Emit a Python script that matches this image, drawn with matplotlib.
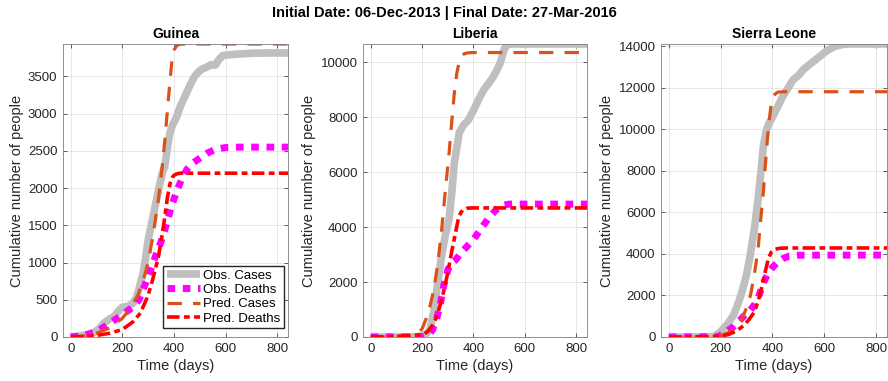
import matplotlib
matplotlib.use("Agg")
import matplotlib.pyplot as plt

plt.rcParams["font.family"] = ["Liberation Sans", "DejaVu Sans"]

SUPTITLE = "Initial Date: 06-Dec-2013 | Final Date: 27-Mar-2016"
COUNTRIES = ["Guinea", "Liberia", "Sierra Leone"]
SERIES_LABELS = ["Obs. Cases", "Obs. Deaths", "Pred. Cases", "Pred. Deaths"]

# --- Guinea ---
gn_obs_cases_days = [0, 30, 60, 90, 110, 130, 150, 170, 185, 200, 220, 240, 255, 265, 280, 290, 300,
                     315, 330, 345, 355, 365, 375, 385, 395, 410, 425, 445, 465, 480, 495, 510, 525,
                     545, 560, 575, 590, 610, 650, 700, 760, 842]
gn_obs_cases = [0, 10, 30, 60, 110, 190, 240, 280, 350, 400, 410, 450, 530, 650, 850, 1050, 1300,
                1550, 1800, 2050, 2200, 2300, 2550, 2750, 2850, 2950, 3100, 3250, 3400, 3500, 3560,
                3600, 3620, 3660, 3650, 3730, 3780, 3790, 3800, 3810, 3815, 3815]
gn_obs_deaths_days = [0, 50, 100, 150, 200, 240, 265, 290, 310, 330, 350, 370, 390, 410, 430, 450,
                      470, 500, 530, 560, 600, 650, 842]
gn_obs_deaths = [0, 20, 70, 180, 300, 400, 500, 720, 900, 1100, 1280, 1500, 1750, 1950, 2120, 2250,
                 2330, 2400, 2470, 2520, 2545, 2550, 2550]
gn_pred_cases_days = [0, 50, 100, 150, 200, 230, 260, 280, 300, 320, 340, 355, 365, 375, 385, 392,
                      400, 410, 420, 440, 842]
gn_pred_cases = [0, 15, 50, 120, 250, 380, 560, 750, 1000, 1380, 1850, 2300, 2650, 3050, 3450, 3700,
                 3850, 3910, 3930, 3935, 3935]
gn_pred_deaths_days = [0, 50, 100, 150, 200, 240, 270, 300, 320, 340, 355, 365, 375, 385, 393, 400,
                       410, 425, 445, 842]
gn_pred_deaths = [0, 5, 20, 50, 100, 200, 320, 560, 800, 1080, 1380, 1620, 1880, 2060, 2140, 2170,
                  2190, 2200, 2200, 2200]

# --- Liberia ---
lr_obs_cases_days = [0, 100, 180, 210, 230, 245, 260, 275, 290, 305, 315, 325, 335, 345, 360, 380,
                     400, 420, 440, 460, 475, 490, 505, 520, 535, 842]
lr_obs_cases = [0, 0, 10, 60, 250, 900, 1900, 2900, 3700, 4300, 5200, 6300, 6900, 7450, 7700, 7900,
                8250, 8650, 9000, 9250, 9450, 9700, 10000, 10500, 10670, 10670]
lr_obs_deaths_days = [0, 100, 200, 225, 240, 255, 270, 285, 300, 315, 330, 350, 375, 400, 430, 460,
                      490, 515, 540, 842]
lr_obs_deaths = [0, 0, 10, 80, 250, 600, 1150, 1900, 2450, 2700, 2800, 3050, 3300, 3550, 3950, 4350,
                 4650, 4800, 4840, 4840]
lr_pred_cases_days = [0, 100, 150, 180, 200, 215, 230, 245, 260, 275, 290, 305, 315, 325, 335, 345,
                      355, 365, 380, 400, 842]
lr_pred_cases = [0, 15, 40, 100, 300, 650, 1100, 1700, 2600, 3800, 5300, 6700, 7800, 8850, 9600,
                 10050, 10250, 10320, 10350, 10360, 10360]
lr_pred_deaths_days = [0, 100, 200, 220, 240, 255, 270, 285, 300, 315, 330, 340, 350, 360, 375, 395,
                       842]
lr_pred_deaths = [0, 20, 80, 180, 420, 700, 1150, 1700, 2350, 3100, 3800, 4250, 4520, 4640, 4690,
                  4700, 4700]

# --- Sierra Leone ---
sl_obs_cases_days = [0, 100, 175, 200, 225, 250, 270, 285, 300, 315, 330, 345, 355, 365, 375, 385,
                     400, 420, 440, 460, 480, 500, 520, 550, 580, 610, 640, 670, 700, 842]
sl_obs_cases = [0, 0, 20, 250, 600, 1050, 1700, 2300, 3000, 4000, 5200, 6700, 7900, 9200, 9900,
                10250, 10600, 11100, 11600, 12000, 12400, 12600, 12900, 13200, 13500, 13800, 14000,
                14100, 14120, 14120]
sl_obs_deaths_days = [0, 100, 190, 210, 230, 250, 270, 285, 300, 315, 330, 345, 355, 365, 380, 400,
                      420, 440, 465, 500, 842]
sl_obs_deaths = [0, 0, 20, 150, 330, 500, 750, 950, 1150, 1300, 1550, 1900, 2250, 2600, 3000, 3350,
                 3620, 3780, 3900, 3940, 3950]
sl_pred_cases_days = [0, 100, 180, 210, 240, 260, 280, 300, 315, 330, 345, 355, 365, 375, 385, 395,
                      405, 420, 440, 842]
sl_pred_cases = [0, 5, 30, 100, 280, 500, 820, 1400, 2000, 3000, 4300, 5700, 7000, 8700, 10200,
                 11200, 11650, 11800, 11820, 11820]
sl_pred_deaths_days = [0, 100, 200, 230, 260, 290, 310, 330, 345, 355, 365, 375, 385, 395, 410, 430,
                       460, 842]
sl_pred_deaths = [0, 5, 40, 120, 280, 560, 850, 1200, 1750, 2200, 2750, 3300, 3800, 4080, 4230,
                  4280, 4290, 4290]

y_ticks = [range(0, 3501, 500), range(0, 10001, 2000), range(0, 14001, 2000)]
x_ticks = [0, 200, 400, 600, 800]

data = [
    [(gn_obs_cases_days, gn_obs_cases), (gn_obs_deaths_days, gn_obs_deaths),
     (gn_pred_cases_days, gn_pred_cases), (gn_pred_deaths_days, gn_pred_deaths)],
    [(lr_obs_cases_days, lr_obs_cases), (lr_obs_deaths_days, lr_obs_deaths),
     (lr_pred_cases_days, lr_pred_cases), (lr_pred_deaths_days, lr_pred_deaths)],
    [(sl_obs_cases_days, sl_obs_cases), (sl_obs_deaths_days, sl_obs_deaths),
     (sl_pred_cases_days, sl_pred_cases), (sl_pred_deaths_days, sl_pred_deaths)],
]

styles = [
    dict(color="#BFBFBF", lw=5.5, ls="-", solid_capstyle="butt"),
    dict(color="#FF00FF", lw=5.0, ls=(0, (1.1, 1.1))),
    dict(color="#D95319", lw=2.3, ls=(0, (4.5, 3.5))),
    dict(color="#FF0000", lw=2.6, ls=(0, (3.5, 1.2, 1.6, 1.2))),
]

fig = plt.figure(figsize=(8.88, 3.81), dpi=100)
lefts = [0.0709, 0.4088, 0.7444]
widths = [0.2534, 0.2523, 0.2545]
axc = "#262626"

for i, name in enumerate(COUNTRIES):
    ax = fig.add_axes([lefts[i], 0.1155, widths[i], 0.769])
    top = 0
    for (d, v), st, lab in zip(data[i], styles, SERIES_LABELS):
        ax.plot(d, v, label=lab, **st)
        top = max(top, max(v))
    ax.set_xlim(-30, 842)
    ax.set_ylim(0, top)
    ax.set_xticks(x_ticks)
    ax.set_yticks(list(y_ticks[i]))
    ax.grid(True, color=axc, alpha=0.12, lw=0.6)
    ax.tick_params(direction="in", length=3, width=0.5, colors=axc, labelsize=9.5,
                   top=True, right=True, pad=4)
    for s in ax.spines.values():
        s.set_color("#7f7f7f")
        s.set_linewidth(0.6)
    ax.set_xlabel("Time (days)", fontsize=10.5, color=axc, labelpad=3)
    ax.set_ylabel("Cumulative number of people", fontsize=10.5, color=axc, labelpad=3)
    ax.set_title(name, fontsize=10, fontweight="bold", pad=4)
    if i == 0:
        ax.legend(loc="lower right", bbox_to_anchor=(0.995, 0.02), fontsize=9.5,
                  fancybox=False, edgecolor=axc, framealpha=1, handlelength=2.5,
                  borderpad=0.3, labelspacing=0.15, handletextpad=0.2, borderaxespad=0.2)

fig.suptitle(SUPTITLE, fontsize=10.5, fontweight="bold", y=0.985)
fig.savefig("out.png", dpi=100)
